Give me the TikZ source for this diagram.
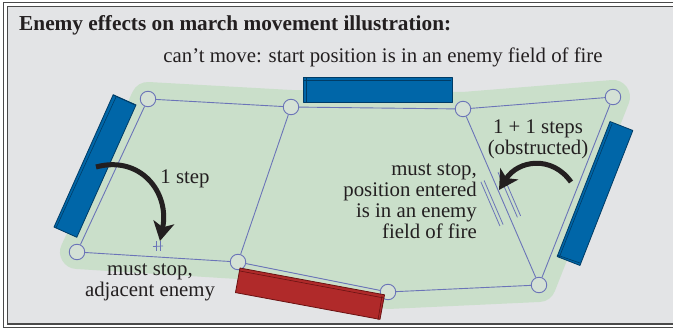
\documentclass[tikz,border=0pt]{standalone}
\usepackage{fontspec}
\setmainfont{Liberation Serif}
\usetikzlibrary{arrows.meta}
\pgfdeclarelayer{bg}
\pgfsetlayers{bg,main}
\definecolor{bggray}{HTML}{E3E4E6}
\definecolor{framegray}{HTML}{4A4A4A}
\definecolor{zone}{HTML}{CADFCA}
\definecolor{edgeblue}{HTML}{6B74B8}
\definecolor{slabblue}{HTML}{0066A8}
\definecolor{slabblueline}{HTML}{003C66}
\definecolor{slabred}{HTML}{B02A2A}
\definecolor{slabredline}{HTML}{6A1212}
\definecolor{ink}{HTML}{231F20}
\tikzset{
  posnode/.style={circle, draw=edgeblue, fill=zone!60!bggray, line width=0.9pt, minimum size=15.5pt, inner sep=0pt},
  link/.style={draw=edgeblue, line width=0.9pt},
  txt/.style={text=ink, font=\fontsize{20.8}{21}\selectfont, inner sep=0pt},
  movearrow/.style={draw=ink, line width=5pt, -{Stealth[length=19pt,width=21pt,inset=5pt]}},
  tickline/.style={draw=edgeblue, line width=0.8pt},
}
\newcommand{\slab}[6]{% cx, cy, angle, length, thickness, color
  \begin{scope}[shift={(#1,#2)}, rotate=#3]
    \filldraw[fill=slab#6, draw=slab#6line, line width=0.8pt, line join=round]
      (-#4/2,-#5/2) rectangle (#4/2,#5/2);
  \end{scope}}
\begin{document}
\begin{tikzpicture}[x=1pt, y=-1pt]
\useasboundingbox (0,0) rectangle (673,328);
\begin{pgfonlayer}{bg}
  \draw[framegray, line width=1pt] (3,2.5) rectangle (680,327.5);
  \filldraw[fill=bggray, draw=framegray, line width=1.4pt] (7.5,6.8) rectangle (680,324);
\end{pgfonlayer}
% positions
\coordinate (pA) at (148,99);
\coordinate (pB) at (291,107);
\coordinate (pC) at (463,109);
\coordinate (pD) at (613,97);
\coordinate (pE) at (77,252);
\coordinate (pF) at (238,262);
\coordinate (pG) at (388,292);
\coordinate (pH) at (539,285);
\begin{pgfonlayer}{bg}
  \filldraw[fill=zone, draw=zone, line width=34pt, line join=round]
    (pA) -- (pB) -- (pC) -- (pD) -- (pH) -- (pG) -- (pF) -- (pE) -- cycle;
\end{pgfonlayer}
% title texts
\node[txt, anchor=base west, font=\fontsize{21.3}{22}\selectfont\bfseries] (title) at (19,31)
  {Enemy effects on march movement illustration:};
\node[txt, anchor=base] (cant) at (383,63)
  {can’t move: start position is in an enemy field of fire};
% nodes and edges
\node[posnode] (A) at (pA) {};
\node[posnode] (B) at (pB) {};
\node[posnode] (C) at (pC) {};
\node[posnode] (D) at (pD) {};
\node[posnode] (E) at (pE) {};
\node[posnode] (F) at (pF) {};
\node[posnode] (G) at (pG) {};
\node[posnode] (H) at (pH) {};
\draw[link] (A) -- (B);
\draw[link] (B) -- (C);
\draw[link] (C) -- (D);
\draw[link] (A) -- (E);
\draw[link] (E) -- (F);
\draw[link] (B) -- (F);
\draw[link] (F) -- (G);
\draw[link] (G) -- (H);
\draw[link] (C) -- (H);
\draw[link] (D) -- (H);
% slabs
\slab{377.5}{89.5}{0}{149}{25}{blue}
\slab{95}{166}{65.9}{145}{25}{blue}
\slab{595}{193.5}{68.6}{145}{24.5}{blue}
\slab{310}{293.7}{-10.5}{147}{25}{red}
% slab accent lines
\draw[slabblueline, line width=0.6pt] (304,80) -- (451,80);
\draw[slabblueline, line width=0.6pt] (306,78) -- (306,102);
\draw[slabblueline, line width=0.6pt] (116,97) -- (56,228);
\draw[slabblueline, line width=0.6pt] (113,95) -- (135,105);
\draw[slabblueline, line width=0.6pt] (612,124) -- (559,258);
\draw[slabblueline, line width=0.6pt] (557,255) -- (580,263);
\draw[slabredline, line width=0.6pt] (240,271) -- (384,298);
\draw[slabredline, line width=0.6pt] (382,296) -- (378,320);
% tick marks
\draw[tickline] (153,246.5) -- (163,246);
\draw[tickline] (156.5,241) -- (156.5,251);
\draw[tickline] (160.5,241) -- (160.5,251);
\draw[tickline] (484.1,180.5) -- (503.1,224.6);
\draw[tickline] (480.9,181.9) -- (499.9,226.0);
\draw[tickline] (498.0,172.3) -- (517.4,217.3);
\draw[tickline] (501.2,170.9) -- (520.6,215.9);
% arrows
\coordinate (s1) at (96,167);
\coordinate (t1) at (160,241);
\draw[movearrow] (s1) .. controls (140,155) and (170,192) .. (t1);
\coordinate (s2) at (571,182);
\coordinate (t2) at (499,190);
\draw[movearrow] (s2) .. controls (552,155) and (518,160) .. (t2);
% labels
\node[txt, anchor=base] (step1) at (185,184) {1 step};
\node[txt, anchor=base, align=center] (adj) at (150,297) {must stop,\\adjacent enemy};
\node[txt, anchor=base, align=center] (obs) at (538,155) {1 + 1 steps\\(obstructed)};
\node[txt, anchor=base east, align=right] (entered) at (477,239)
  {must stop,\\position entered\\is in an enemy\\field of fire};
\end{tikzpicture}
\end{document}
